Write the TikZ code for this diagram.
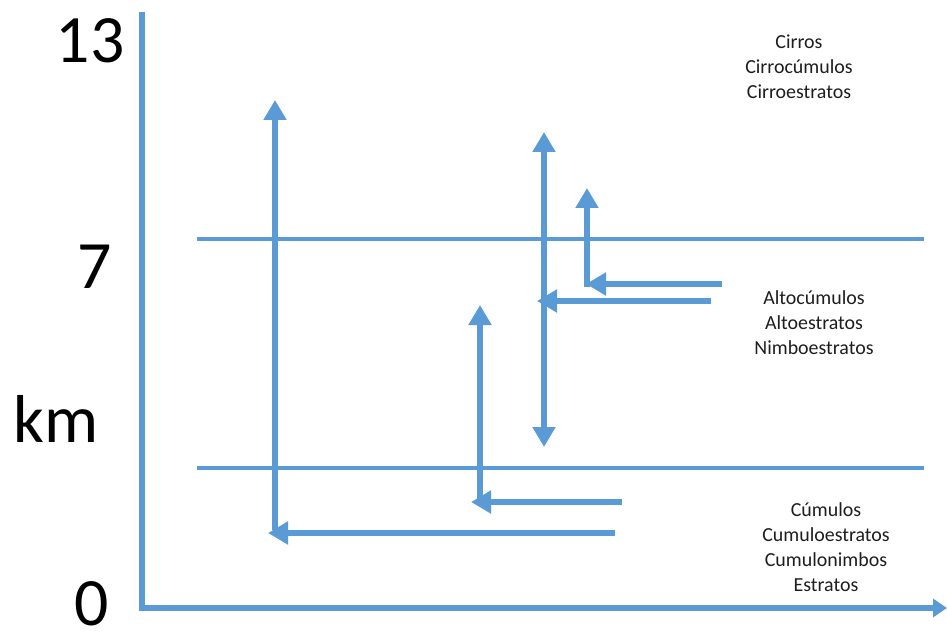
\documentclass[tikz,border=0pt]{standalone}
\usepackage{fontspec}
\setmainfont{Carlito}
\usetikzlibrary{arrows.meta}
\definecolor{cblue}{HTML}{5B9BD5}
\definecolor{ctext}{HTML}{1E1E1E}
\tikzset{
  axisline/.style={draw=cblue, line width=6bp, line join=miter, -{Triangle[width=18bp,length=14bp]}},
  refline/.style={draw=cblue, line width=4.5bp},
  flow/.style={draw=cblue, line width=6bp, -{Triangle[width=22bp,length=20bp]}},
  biflow/.style={draw=cblue, line width=6bp, {Triangle[width=22bp,length=20bp]}-{Triangle[width=22bp,length=20bp]}},
  bignum/.style={font=\fontsize{68}{82}\selectfont, text=black, inner sep=0pt, text depth=0pt, anchor=base},
  cloudtxt/.style={font=\fontsize{20}{25}\selectfont, text=ctext, align=center, inner sep=0pt},
}
\begin{document}
\begin{tikzpicture}[x=1bp,y=-1bp]
\useasboundingbox[fill=white] (0,0) rectangle (947,634);

% axes
\coordinate (ytop) at (142,12);
\coordinate (orig) at (142,608);
\coordinate (xend) at (947,608);
\draw[axisline] (ytop) -- (orig) -- (xend);

% axis labels
\node[bignum] (l13) at (90,63) {13};
\node[bignum] (l7) at (95,288) {7};
\node[bignum] (lkm) at (56,442) {km};
\node[bignum] (l0) at (92,625) {0};

% reference lines
\coordinate (r1a) at (197,239);
\coordinate (r1b) at (924,239);
\coordinate (r2a) at (197,468);
\coordinate (r2b) at (924,468);
\draw[refline] (r1a) -- (r1b);
\draw[refline] (r2a) -- (r2b);

% arrow group 1
\coordinate (a1s) at (615,533);
\coordinate (a1e) at (268,533);
\coordinate (a1b) at (275,530);
\coordinate (a1t) at (275,100);
\draw[flow] (a1s) -- (a1e);
\draw[flow] (a1b) -- (a1t);

% arrow group 2
\coordinate (a2s) at (622,502);
\coordinate (a2e) at (471,502);
\coordinate (a2b) at (480,505);
\coordinate (a2t) at (480,305);
\draw[flow] (a2s) -- (a2e);
\draw[flow] (a2b) -- (a2t);

% arrow group 3
\coordinate (a3b) at (544,447);
\coordinate (a3t) at (544,132);
\coordinate (a3s) at (711,301);
\coordinate (a3e) at (537,301);
\draw[biflow] (a3b) -- (a3t);
\draw[flow] (a3s) -- (a3e);

% arrow group 4
\coordinate (a4s) at (722,284);
\coordinate (a4e) at (586,284);
\coordinate (a4b) at (587,287);
\coordinate (a4t) at (587,188);
\draw[flow] (a4s) -- (a4e);
\draw[flow] (a4b) -- (a4t);

% cloud names
\node[cloudtxt] (high) at (799,67) {Cirros\\Cirrocúmulos\\Cirroestratos};
\node[cloudtxt] (mid) at (814,323) {Altocúmulos\\Altoestratos\\Nimboestratos};
\node[cloudtxt] (low) at (826,547) {Cúmulos\\Cumuloestratos\\Cumulonimbos\\Estratos};
\end{tikzpicture}
\end{document}
